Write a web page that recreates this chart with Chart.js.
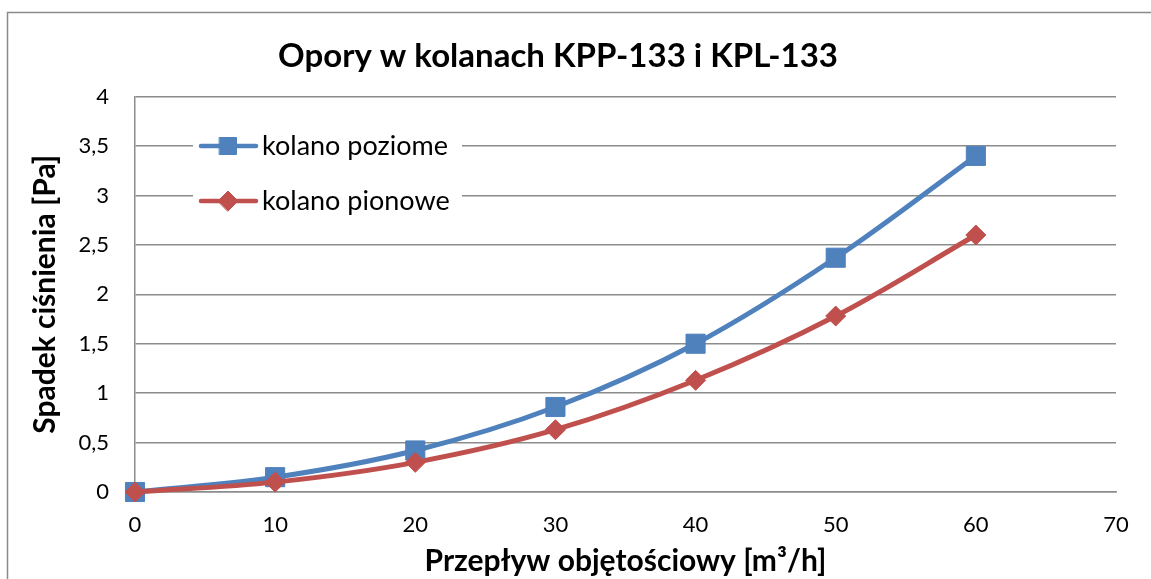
<!DOCTYPE html>
<html>
<head>
<meta charset="utf-8">
<script src="https://cdn.jsdelivr.net/npm/chart.js@4/dist/chart.umd.min.js"></script>
<style>
  html, body { margin: 0; padding: 0; background: #fff; }
  #wrap { width: 1151px; height: 579px; }
</style>
</head>
<body>
<div id="wrap"><canvas id="chart" width="1151" height="579"></canvas></div>
<script>
// Flow rate [m3/h] on the x axis
const flow = [0, 10, 20, 30, 40, 50, 60];
// Pressure drop [Pa]
const horizontalElbow = [0, 0.15, 0.42, 0.86, 1.5, 2.37, 3.4];
const verticalElbow = [0, 0.1, 0.3, 0.63, 1.13, 1.78, 2.6];
const seriesNames = ["kolano poziome", "kolano pionowe"];
const xTicks = [0, 10, 20, 30, 40, 50, 60, 70];
const yTicks = [0, 0.5, 1, 1.5, 2, 2.5, 3, 3.5, 4];

const FONT = "Lato, 'Open Sans', sans-serif";
const GRID = "#8c8c8c";

const toPoints = (ys) => flow.map((x, i) => ({ x: x, y: ys[i] }));

// Draws the grey outer frame of the Excel chart
const framePlugin = {
  id: "frame",
  beforeDraw(chart) {
    const ctx = chart.ctx;
    ctx.save();
    ctx.fillStyle = "#fff";
    ctx.fillRect(0, 0, chart.width, chart.height);
    ctx.strokeStyle = "#8a8a8a";
    ctx.lineWidth = 1.5;
    ctx.strokeRect(7.5, 12.5, chart.width + 20, chart.height + 20);
    ctx.restore();
  }
};

// Legend sits inside the plot area on a white box, like in Excel
const insideLegend = {
  id: "insideLegend",
  afterDatasetsDraw(chart) {
    const ctx = chart.ctx;
    const box = { x: 193, y: 124, w: 269, h: 98 };
    ctx.save();
    ctx.fillStyle = "#fff";
    ctx.fillRect(box.x, box.y, box.w, box.h);
    chart.data.datasets.forEach((ds, i) => {
      const y = 146 + i * 55;
      ctx.strokeStyle = ds.borderColor;
      ctx.lineWidth = 4.5;
      ctx.lineCap = "round";
      ctx.beginPath();
      ctx.moveTo(201, y);
      ctx.lineTo(256, y);
      ctx.stroke();
      ctx.fillStyle = ds.pointBackgroundColor;
      ctx.strokeStyle = ds.borderColor;
      ctx.lineWidth = 1;
      Chart.helpers.drawPoint(ctx, {
        pointStyle: ds.pointStyle,
        radius: i === 0 ? 12 : 10,
        rotation: 0,
        borderWidth: 1
      }, 228, y);
      ctx.fillStyle = "#000";
      ctx.font = "27px " + FONT;
      ctx.textBaseline = "middle";
      ctx.textAlign = "left";
      ctx.fillText(ds.label, 262, y);
    });
    ctx.restore();
  }
};

const data = {
  datasets: [
    {
      label: seriesNames[0],
      data: toPoints(horizontalElbow),
      borderColor: "#4f81bd",
      backgroundColor: "#4f81bd",
      pointBackgroundColor: "#4f81bd",
      pointBorderColor: "#4f81bd",
      pointStyle: "rect",
      pointRadius: 13.5,
      pointBorderWidth: 1,
      borderWidth: 5,
      tension: 0.35,
      clip: false,
      // drawn underneath the red series, as in the original
      order: 1
    },
    {
      label: seriesNames[1],
      data: toPoints(verticalElbow),
      borderColor: "#c0504d",
      backgroundColor: "#c0504d",
      pointBackgroundColor: "#c0504d",
      pointBorderColor: "#c0504d",
      pointStyle: "rectRot",
      pointRadius: 10,
      pointBorderWidth: 1,
      borderWidth: 5,
      tension: 0.35,
      clip: false,
      order: 0
    }
  ]
};

const config = {
  type: "line",
  data: data,
  options: {
    responsive: false,
    animation: false,
    layout: {
      padding: { left: 0, right: 35, top: 0, bottom: 0 }
    },
    plugins: {
      legend: { display: false },
      tooltip: { enabled: false },
      title: {
        display: true,
        text: "Opory w kolanach KPP-133 i KPL-133",
        color: "#000",
        font: { family: FONT, size: 33, weight: "bold" },
        padding: { top: 37, bottom: 20 }
      }
    },
    scales: {
      x: {
        type: "linear",
        min: 0,
        max: 70,
        afterBuildTicks: (scale) => { scale.ticks = xTicks.map((v) => ({ value: v })); },
        afterFit: (scale) => { scale.height = 87; },
        grid: { display: false, drawTicks: false },
        border: { display: true, color: GRID, width: 1.5 },
        ticks: {
          color: "#000",
          padding: 20,
          font: { family: FONT, size: 22 }
        },
        title: {
          display: true,
          text: "Przepływ objętościowy [m³/h]",
          color: "#000",
          font: { family: FONT, size: 30, weight: "bold" },
          padding: { top: 0, bottom: 0 }
        }
      },
      y: {
        min: 0,
        max: 4,
        afterBuildTicks: (scale) => { scale.ticks = yTicks.map((v) => ({ value: v })); },
        afterFit: (scale) => { scale.width = 135; },
        grid: { color: GRID, lineWidth: 1.5, drawTicks: false },
        border: { display: true, color: GRID, width: 1.5 },
        ticks: {
          color: "#000",
          padding: 26,
          font: { family: FONT, size: 22 },
          callback: (v) => String(v).replace(".", ",")
        },
        title: {
          display: true,
          text: "Spadek ciśnienia [Pa]",
          color: "#000",
          font: { family: FONT, size: 30, weight: "bold" },
          padding: { top: 27, bottom: 0 }
        }
      }
    }
  },
  plugins: [framePlugin, insideLegend]
};

window.chart = new Chart(document.getElementById("chart"), config);
</script>
</body>
</html>
